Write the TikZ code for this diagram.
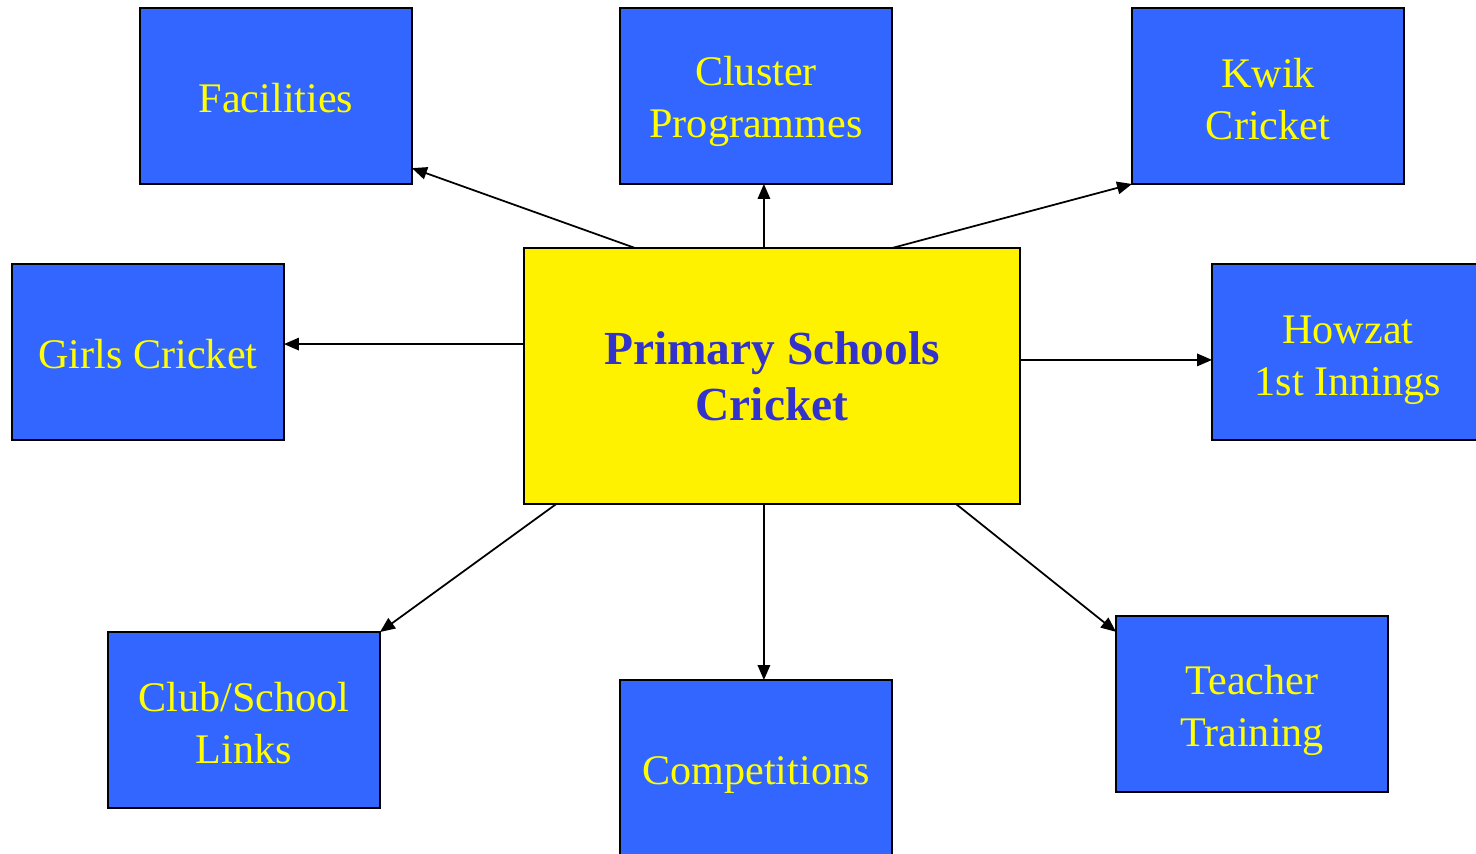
\documentclass[tikz,border=0pt]{standalone}
\usepackage{fontspec}
\setmainfont{Liberation Serif}
\usetikzlibrary{arrows.meta,calc}
\definecolor{boxblue}{HTML}{3366FF}
\definecolor{txtyellow}{HTML}{FFFF00}
\definecolor{txtblue}{HTML}{3333CC}
\tikzset{
	topic/.style={draw=black,line width=1.1pt,fill=boxblue,text=txtyellow,inner sep=0pt,outer sep=0pt,
		minimum width=5.44cm,minimum height=3.52cm,align=center,font=\fontsize{24}{29.5}\selectfont},
	hub/.style={draw=black,line width=1.1pt,fill=yellow,text=txtblue,inner sep=0pt,outer sep=0pt,
		minimum width=9.92cm,minimum height=5.12cm,align=center,font=\fontsize{27}{32}\selectfont\bfseries},
	lowered/.style={text height=#1},
	link/.style={line width=1pt,-{Triangle[length=0.3cm,width=0.25cm]}}
}
\begin{document}
\begin{tikzpicture}[x=0.02cm,y=-0.02cm]
				\useasboundingbox (0,0) rectangle (1476,854);
				\begin{scope}
				\clip (0,0) rectangle (1476,854);
				\node[hub] (psc) at (772,376) {Primary Schools\\Cricket};
				\node[topic,lowered=18.7pt] (fac) at (276,96) {Facilities};
				\node[topic,lowered=52.7pt] (clu) at (756,96) {Cluster\\Programmes};
				\node[topic,lowered=49.3pt] (kwik) at (1268,96) {Kwik\\Cricket};
				\node[topic,lowered=18.7pt] (girls) at (148,352) {Girls Cricket};
				\node[topic,lowered=55pt] (howzat) at (1348,352) {Howzat\\1st Innings};
				\node[topic,lowered=49.3pt] (club) at (244,720) {Club/School\\Links};
				\node[topic,lowered=24.4pt] (comp) at (756,768) {Competitions};
				\node[topic,lowered=53.8pt] (teach) at (1252,704) {Teacher\\Training};
				\end{scope}
				% arrows out of the hub
				\draw[link] ($(psc.north west)!0.224!(psc.north east)$) -- ($(fac.north east)!0.91!(fac.south east)$);
				\draw[link] ($(psc.north west)!0.484!(psc.north east)$) -- ($(clu.south west)!0.529!(clu.south east)$);
				\draw[link] ($(psc.north west)!0.742!(psc.north east)$) -- (kwik.south west);
				\draw[link] ($(psc.north west)!0.375!(psc.south west)$) -- ($(girls.north east)!0.455!(girls.south east)$);
				\draw[link] ($(psc.north east)!0.4375!(psc.south east)$) -- ($(howzat.north west)!0.545!(howzat.south west)$);
				\draw[link] ($(psc.south west)!0.065!(psc.south east)$) -- (club.north east);
				\draw[link] ($(psc.south west)!0.484!(psc.south east)$) -- ($(comp.north west)!0.529!(comp.north east)$);
				\draw[link] ($(psc.south west)!0.871!(psc.south east)$) -- ($(teach.north west)!0.09!(teach.south west)$);
			\end{tikzpicture}
\end{document}
